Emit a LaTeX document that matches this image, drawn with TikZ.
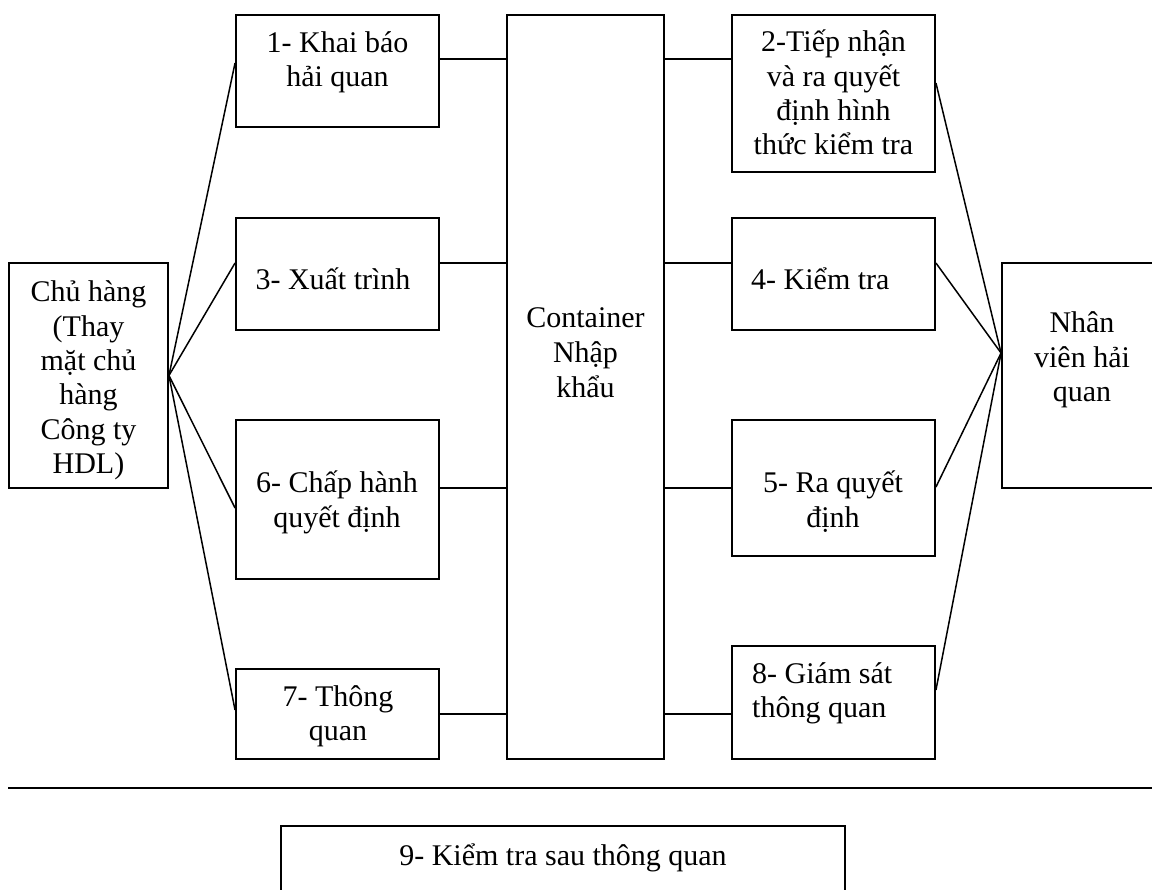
\documentclass[tikz,border=0pt]{standalone}
\usepackage{fontspec}
\setmainfont{Liberation Serif}
\usetikzlibrary{calc}

% multi-line text blocks whose baseline is the first line
\newcommand{\clines}[1]{\begin{tabular}[t]{@{}c@{}}#1\end{tabular}}
\newcommand{\llines}[1]{\begin{tabular}[t]{@{}l@{}}#1\end{tabular}}

\tikzset{
  boxnode/.style={draw, rectangle, line width=1.9pt, inner sep=0pt},
  link/.style={line width=1.5pt},
  txt/.style={anchor=base, inner sep=0pt, font=\fontsize{30}{34.3}\selectfont},
  txtl/.style={txt, anchor=base west},
}

\begin{document}
\begin{tikzpicture}[x=1pt, y=-1pt]
\useasboundingbox (0,0) rectangle (1152,890);

% ---- boxes ----
\node[boxnode, minimum width=159pt, minimum height=225pt] (chu) at (88.5,375.5) {};
\node[boxnode, minimum width=203pt, minimum height=112pt] (b1) at (337.5,71) {};
\node[boxnode, minimum width=203pt, minimum height=112pt] (b3) at (337.5,274) {};
\node[boxnode, minimum width=203pt, minimum height=159pt] (b6) at (337.5,499.5) {};
\node[boxnode, minimum width=203pt, minimum height=90pt] (b7) at (337.5,714) {};
\node[boxnode, minimum width=157pt, minimum height=744pt] (cont) at (585.5,387) {};
\node[boxnode, minimum width=203pt, minimum height=157pt] (b2) at (833.5,93.5) {};
\node[boxnode, minimum width=203pt, minimum height=112pt] (b4) at (833.5,274) {};
\node[boxnode, minimum width=203pt, minimum height=136pt] (b5) at (833.5,488) {};
\node[boxnode, minimum width=203pt, minimum height=113pt] (b8) at (833.5,702.5) {};
\node[boxnode, minimum width=160pt, minimum height=225pt] (nv) at (1082,375.5) {};
\node[boxnode, minimum width=564pt, minimum height=74pt] (b9) at (563,863) {};

% ---- texts ----
\node[txt] (tchu) at (88.5,302) {\clines{Chủ hàng\\(Thay\\mặt chủ\\hàng\\Công ty\\HDL)}};
\node[txt] (t1) at (337.5,52.7) {\clines{1- Khai báo\\hải quan}};
\node[txt] (t3) at (333,290) {3- Xuất trình};
\node[txt] (t6) at (337,493) {\clines{6- Chấp hành\\quyết định}};
\node[txt] (t7) at (338,706) {\clines{7- Thông\\quan}};
\node[txt, font=\fontsize{30}{35}\selectfont] (tc) at (585.5,328) {\clines{Container\\Nhập\\khẩu}};
\node[txt] (t2) at (833.5,52) {\clines{2-Tiếp nhận\\và ra quyết\\định hình\\thức kiểm tra}};
\node[txtl] (t4) at (751,290) {4- Kiểm tra};
\node[txt] (t5) at (833,493) {\clines{5- Ra quyết\\định}};
\node[txtl] (t8) at (752,683) {\llines{8- Giám sát\\thông quan}};
\node[txt] (tnv) at (1082,333) {\clines{Nhân\\viên hải\\quan}};
\node[txt] (t9) at (563,865) {9- Kiểm tra sau thông quan};

% ---- rows joining the steps through the container ----
\coordinate (r1) at (0,59);
\coordinate (r2) at (0,263);
\coordinate (r3) at (0,488);
\coordinate (r4) at (0,714);
\foreach \lb/\rb/\rw in {b1/b2/r1, b3/b4/r2, b6/b5/r3, b7/b8/r4}{
  \draw[link] (\lb.east |- \rw) -- (cont.west |- \rw);
  \draw[link] (cont.east |- \rw) -- (\rb.west |- \rw);
}

% ---- fan from the owner ----
\draw[link] (chu.east) -- ([yshift=8pt]b1.west);
\draw[link] (chu.east) -- ([yshift=11pt]b3.west);
\draw[link] (chu.east) -- ([yshift=-8.5pt]b6.west);
\draw[link] (chu.east) -- ([yshift=4pt]b7.west);

% ---- fan to the customs officer ----
\coordinate (nvp) at ([yshift=22.5pt]nv.west);
\draw[link] ([yshift=10.5pt]b2.east) -- (nvp);
\draw[link] ([yshift=11pt]b4.east) -- (nvp);
\draw[link] ([yshift=1pt]b5.east) -- (nvp);
\draw[link] ([yshift=12.5pt]b8.east) -- (nvp);

% ---- separator ----
\coordinate (sepL) at (8,788);
\coordinate (sepR) at (1152,788);
\draw[line width=2.4pt] (sepL) -- (sepR);
\end{tikzpicture}
\end{document}
